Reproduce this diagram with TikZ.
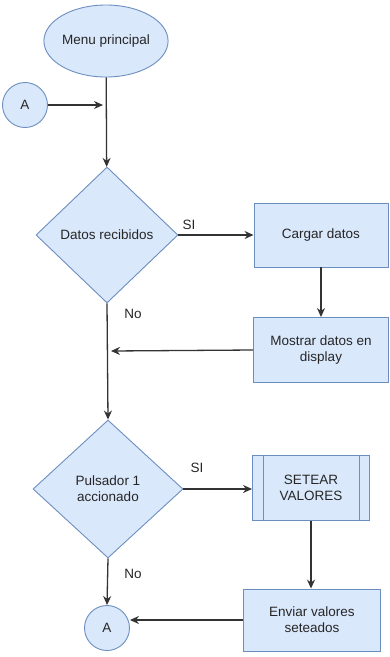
\documentclass[tikz,border=0pt]{standalone}
\usepackage{fontspec}
\setmainfont{Liberation Sans}
\usetikzlibrary{shapes.geometric}
\usetikzlibrary{arrows.meta}

\definecolor{boxfill}{HTML}{DAE8FC}
\definecolor{boxline}{HTML}{6C8EBF}
\definecolor{linegray}{HTML}{333333}

\tikzset{
  shape box/.style={draw=boxline, fill=boxfill, line width=0.9pt, text=black!85, align=center, inner sep=0pt, font=\fontsize{13.5}{16}\selectfont},
  flow/.style={draw=linegray, line width=1.3pt, -{Stealth[length=9pt,width=8pt]}},
  tag/.style={text=black!85, font=\fontsize{13.5}{16}\selectfont}
}

\begin{document}
\begin{tikzpicture}[x=1pt, y=-1pt]
        \useasboundingbox (0,0) rectangle (390,657);
        \node[shape=ellipse, shape box, minimum width=114pt, minimum height=72pt] (menu) at (106,41) {Menu principal};
        \node[shape=circle, shape box, minimum size=45pt] (A1) at (25,105) {A};
        \node[shape=diamond, shape box, minimum width=142pt, minimum height=136pt] (datos) at (107,235) {Datos recibidos};
        \node[shape=rectangle, shape box, minimum width=134pt, minimum height=64pt] (cargar) at (321,235) {Cargar datos};
        \node[shape=rectangle, shape box, minimum width=135pt, minimum height=65pt] (mostrar) at (321,350) {Mostrar datos en\\display};
        \node[shape=diamond, shape box, minimum width=150pt, minimum height=138pt] (pulsador) at (108,489) {Pulsador 1\\accionado};
        \node[shape=rectangle, shape box, minimum width=117pt, minimum height=65pt] (setear) at (311,488) {SETEAR\\VALORES};
        \draw[boxline, line width=0.9pt] ([xshift=11pt]setear.north west) -- ([xshift=11pt]setear.south west);
        \draw[boxline, line width=0.9pt] ([xshift=-11pt]setear.north east) -- ([xshift=-11pt]setear.south east);
        \node[shape=rectangle, shape box, minimum width=137pt, minimum height=62pt] (enviar) at (312,620) {Enviar valores\\seteados};
        \node[shape=circle, shape box, minimum size=45pt] (A2) at (107,628) {A};
        \coordinate (joinA) at (103,105);
        \coordinate (joinB) at (111,351);
        \node[tag] (si1) at (189,225) {SI};
        \node[tag] (no1) at (133,314) {No};
        \node[tag] (si2) at (197,468) {SI};
        \node[tag] (no2) at (133,574) {No};
        \draw[flow] (menu) -- (datos);
        \draw[flow] (A1) -- (joinA);
        \draw[flow] (datos.east) -- (cargar.west);
        \draw[flow] (cargar) -- (mostrar);
        \draw[flow] (mostrar.west) -- (joinB);
        \draw[flow] (datos.south) -- (pulsador.north);
        \draw[flow] (pulsador.east) -- (pulsador.east -| setear.west);
        \draw[flow] (setear) -- (setear |- enviar.north);
        \draw[flow] (pulsador.south) -- (A2.north);
        \draw[flow] (enviar.west) -- (enviar.west -| A2.east);
    \end{tikzpicture}
\end{document}
